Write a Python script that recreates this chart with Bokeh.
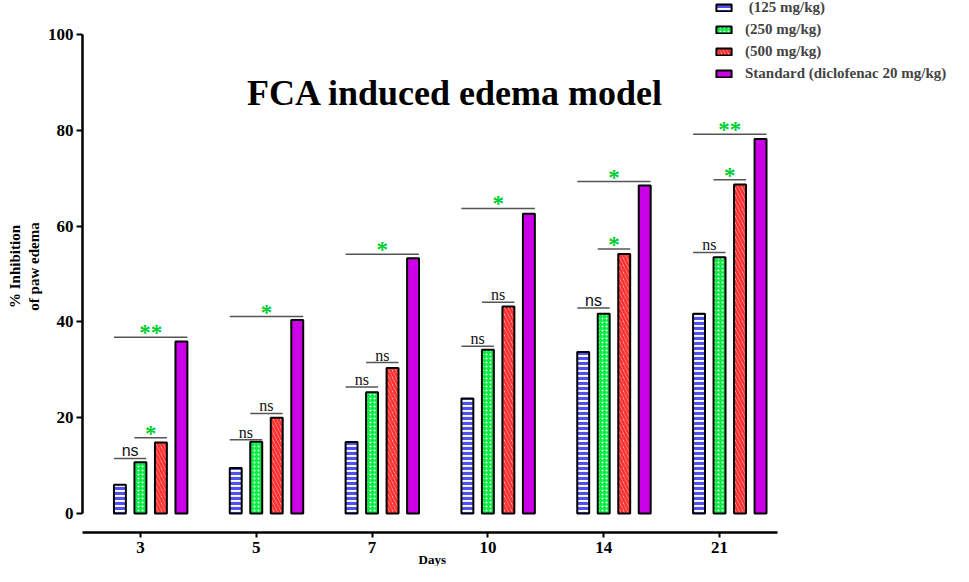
import numpy as np
from bokeh.plotting import figure
from bokeh.models import Range1d, FixedTicker, Label, Legend, LegendItem, ColumnDataSource, Title
from bokeh.core.properties import value
from bokeh.embed import file_html
from bokeh.resources import INLINE

# ---------------- data ----------------
days = ["3", "5", "7", "10", "14", "21"]
series_names = [" (125 mg/kg)", "(250 mg/kg)", "(500 mg/kg)", "Standard (diclofenac 20 mg/kg)"]
dose_125 = [6.0, 9.5, 14.9, 24.0, 33.7, 41.7]
dose_250 = [10.7, 15.0, 25.3, 34.2, 41.7, 53.5]
dose_500 = [14.8, 20.0, 30.4, 43.2, 54.2, 68.7]
standard = [35.9, 40.4, 53.3, 62.6, 68.5, 78.2]

# significance brackets: 125 vs 250, 250 vs 500, 125 vs standard
sig_a_label = ["ns", "ns", "ns", "ns", "ns", "ns"]
sig_a_y = [11.5, 15.4, 26.4, 34.9, 42.9, 54.5]
sig_b_label = ["*", "ns", "ns", "ns", "*", "*"]
sig_b_y = [15.8, 20.9, 31.5, 44.1, 55.2, 69.7]
sig_c_label = ["**", "*", "*", "*", "*", "**"]
sig_c_y = [36.8, 41.1, 54.1, 63.7, 69.3, 79.2]
ns_sans_days = ["3", "14"]

y_ticks = [0, 20, 40, 60, 80, 100]
title_text = "FCA induced edema model"
x_title = "Days"
y_title = "% Inhibition\nof paw edema"

# ---------------- styling ----------------
SERIF = "Liberation Serif"
SANS = "Liberation Sans"
n = len(days)
centers = np.arange(n) + 0.5
step = 0.177
offsets = [-step, 0.0, step, 2 * step]
bar_w = 0.103

p = figure(width=953, height=566, output_backend="svg", toolbar_location=None,
           x_range=Range1d(0, 7.52), y_range=Range1d(-3.97, 107.1),
           min_border_left=82, min_border_bottom=34, min_border_top=0, min_border_right=0)
p.outline_line_color = None
p.xgrid.visible = False
p.ygrid.visible = False
p.background_fill_color = "white"

styles = [
    dict(fill_color="white", hatch_pattern="horizontal_line", hatch_color="#5050ee",
         hatch_scale=5, hatch_weight=3.2),
    dict(fill_color="#00ee40", hatch_pattern="dot", hatch_color="white",
         hatch_scale=4, hatch_weight=2),
    dict(fill_color="white", hatch_pattern="left_diagonal_line", hatch_color="#ff3030",
         hatch_scale=7, hatch_weight=2.8),
    dict(fill_color="#cc00e6"),
]
series = [dose_125, dose_250, dose_500, standard]

renderers = []
for k, vals in enumerate(series):
    src = ColumnDataSource(dict(x=centers + offsets[k], top=vals))
    r = p.vbar(x="x", top="top", bottom=0, width=bar_w, source=src,
               line_color="black", line_width=2, **styles[k])
    renderers.append(r)

# significance lines and labels
def add_sig(x0s, x1s, ys, labels):
    p.segment(x0=x0s, y0=ys, x1=x1s, y1=ys, line_color="#555555", line_width=1.5)
    ns_src = dict(x=[], y=[], t=[], f=[])
    st_src = dict(x=[], y=[], t=[])
    for xa, xb, yv, lab, d in zip(x0s, x1s, ys, labels, days):
        xm = (xa + xb) / 2
        if lab == "ns":
            ns_src["x"].append(xm); ns_src["y"].append(yv); ns_src["t"].append(lab)
            ns_src["f"].append(SANS if d in ns_sans_days else SERIF)
        else:
            st_src["x"].append(xm); st_src["y"].append(yv); st_src["t"].append(lab)
    if ns_src["x"]:
        p.text(x="x", y="y", text="t", text_font="f", source=ColumnDataSource(ns_src),
               text_align="center", text_baseline="bottom", text_font_size="16px",
               text_color="#111111", y_offset=1)
    if st_src["x"]:
        p.text(x="x", y="y", text="t", source=ColumnDataSource(st_src),
               text_font=value(SERIF), text_font_style="bold",
               text_align="center", text_baseline="bottom", text_font_size="23px",
               text_color="#00cc33", y_offset=8)

half = bar_w / 2
add_sig(list(centers + offsets[0] - half), list(centers + offsets[1] + half), sig_a_y, sig_a_label)
add_sig(list(centers + offsets[1] - half), list(centers + offsets[2] + half), sig_b_y, sig_b_label)
add_sig(list(centers + offsets[0] - half), list(centers + offsets[3] + half), sig_c_y, sig_c_label)

# title
p.add_layout(Label(x=3.22, y=87.7, text=title_text, text_align="center",
                   text_baseline="alphabetic", text_font=SERIF, text_font_style="bold",
                   text_font_size="36px", text_color="black"))

# axes
xa = p.xaxis[0]
xa.ticker = FixedTicker(ticks=list(centers))
xa.major_label_overrides = {float(c): d for c, d in zip(centers, days)}
xa.bounds = (0, n)
xa.axis_line_width = 2.5
xa.major_tick_line_width = 2
xa.major_tick_in = 0
xa.major_tick_out = 5
xa.minor_tick_line_color = None
xa.major_label_text_font = SERIF
xa.major_label_text_font_style = "bold"
xa.major_label_text_font_size = "17px"
xa.major_label_text_color = "black"
xa.major_label_standoff = 4

# x-axis title placed below the axis, centred under the categories
days_title = Title(text=x_title, align="left", offset=336,
                   text_font=SERIF, text_font_style="bold", text_font_size="13px",
                   text_color="black")
try:
    days_title.standoff = -11
except Exception:
    days_title.standoff = 0
p.add_layout(days_title, "below")

ya = p.yaxis[0]
ya.ticker = FixedTicker(ticks=y_ticks)
ya.bounds = (0, 100)
ya.axis_line_width = 2.5
ya.major_tick_line_width = 2
ya.major_tick_in = 0
ya.major_tick_out = 6
ya.minor_tick_line_color = None
ya.major_label_text_font = SERIF
ya.major_label_text_font_style = "bold"
ya.major_label_text_font_size = "17px"
ya.major_label_text_color = "black"
ya.major_label_standoff = 3
ya.axis_label = y_title
ya.axis_label_text_font = SERIF
ya.axis_label_text_font_style = "bold"
ya.axis_label_text_font_size = "15px"
ya.axis_label_text_color = "black"
ya.axis_label_standoff = 3

# legend
legend = Legend(items=[LegendItem(label=nm, renderers=[r]) for nm, r in zip(series_names, renderers)],
                location=(632, 450), glyph_width=19, glyph_height=9, label_standoff=12,
                label_height=18, spacing=4, padding=0, margin=0,
                label_text_font=SERIF, label_text_font_style="bold", label_text_font_size="15px",
                border_line_color=None, background_fill_alpha=0)
p.add_layout(legend)

open("out.html", "w").write(file_html(p, INLINE))
